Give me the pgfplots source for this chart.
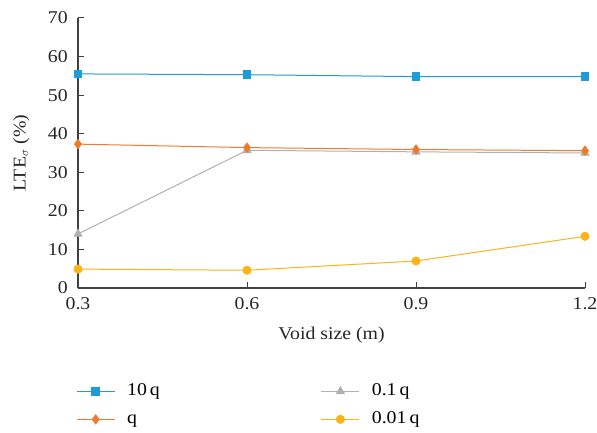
\documentclass[border=0pt]{standalone}
\usepackage{pgfplots}
\pgfplotsset{compat=1.18}
\usepackage{fontspec}
\setmainfont{Liberation Serif}[FakeStretch=1.1]
\definecolor{cblue}{HTML}{1F9BD7}
\definecolor{corange}{HTML}{EE7B2C}
\definecolor{cgray}{HTML}{B0B0B0}
\definecolor{cyellow}{HTML}{FBB417}
\definecolor{axisgray}{HTML}{404040}
\pgfplotsset{
  mylegend/.style 2 args={legend image code/.code={%
    \draw[#1, line width=1pt] (0pt,0pt) -- (38pt,0pt);
    \path[#1] plot[mark=#2, mark options={#1, fill=#1}, mark repeat=2, mark phase=2] coordinates {(0pt,0pt) (19pt,0pt) (38pt,0pt)};}},
}
\begin{document}
\fontsize{18}{21}\selectfont
\begin{tikzpicture}
\begin{axis}[
  scale only axis,
  width=507pt, height=270pt,
  xmin=0.3, xmax=1.2, ymin=0, ymax=70,
  xtick={0.3,0.6,0.9,1.2},
  xticklabels={0.3,0.6,0.9,1.2},
  ytick={0,10,...,70},
  axis lines*=left,
  axis line style={axisgray, line width=1.1pt},
  tick style={axisgray, line width=1pt},
  major tick length=6pt,
  tick align=inside,
  /pgf/number format/assume math mode=true,
  ticklabel style={font=\fontsize{18}{21}\selectfont, text=black!85},
  xticklabel style={yshift=-3pt},
  yticklabel style={xshift=-4pt},
  label style={font=\fontsize{18}{21}\selectfont, text=black!85},
  xlabel={Void size (m)},
  ylabel={LTE$_\sigma$ (\%)},
  ylabel style={at={(axis description cs:-0.112,0.5)}, anchor=center},
  xlabel style={at={(axis description cs:0.5,-0.175)}, anchor=center},
  clip=false,
  legend columns=2,
  legend cell align=left,
  legend style={draw=none, fill=none, inner sep=0pt,
    at={(axis description cs:-0.004,-0.345)}, anchor=north west,
    font=\fontsize{18}{21}\selectfont,
    nodes={inner sep=2pt, text height=12pt, text depth=4pt},
    /tikz/every odd column/.append style={column sep=10pt},
    /tikz/every even column/.append style={column sep=159pt},
    row sep=8pt},
]
\addplot[cblue, line width=1pt, mark=square*, mark size=3.8pt, mylegend={cblue}{square*}] coordinates {(0.3,55.5) (0.6,55.3) (0.9,54.8) (1.2,54.8)};
\addlegendentry{10\,q}
\addplot[cgray, line width=1pt, mark=triangle*, mark size=4.5pt, mylegend={cgray}{triangle*}] coordinates {(0.3,14.0) (0.6,35.7) (0.9,35.3) (1.2,35.0)};
\addlegendentry{0.1\,q}
\addplot[corange, line width=1pt, mark=diamond*, mark size=4.5pt, mylegend={corange}{diamond*}] coordinates {(0.3,37.3) (0.6,36.4) (0.9,35.9) (1.2,35.6)};
\addlegendentry{q}
\addplot[cyellow, line width=1pt, mark=*, mark size=4pt, mylegend={cyellow}{*}] coordinates {(0.3,4.9) (0.6,4.6) (0.9,7.0) (1.2,13.4)};
\addlegendentry{0.01\,q}
\end{axis}
\pgfresetboundingbox
\path ([shift={(-78pt,-144pt)}]current axis.south west) rectangle ([shift={(12pt,18pt)}]current axis.north east);
\end{tikzpicture}
\end{document}
